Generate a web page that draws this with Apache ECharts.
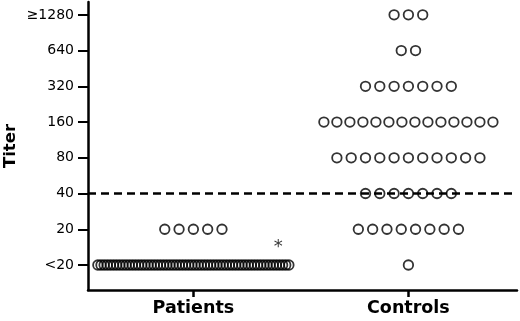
<!DOCTYPE html>
<html><head><meta charset="utf-8">
<script src="https://cdn.jsdelivr.net/npm/echarts@6/dist/echarts.min.js"></script>
<style>html,body{margin:0;padding:0;background:#fff}#c{width:520px;height:321px}</style>
</head><body><div id="c"></div>
<script>
const titerLabels = ['<20','20','40','80','160','320','640','≥1280'];
const groups = ['Patients','Controls'];
const patientCounts = [62,5,0,0,0,0,0,0];
const controlCounts = [1,8,7,11,14,7,2,3];
const cutoffLevel = 2; // titer 40
const asteriskText = '*';

const pxPerUnit = 215;
function layoutRow(groupPos, level, n) {
  const pts = [];
  let sp = n > 20 ? 191 / (n - 1) : (n > 12 ? 13 : 14.3);
  for (let j = 0; j < n; j++) {
    pts.push([groupPos + (j - (n - 1) / 2) * sp / pxPerUnit, level]);
  }
  return pts;
}
function buildPoints(counts, groupIdx) {
  let out = [];
  counts.forEach((n, lvl) => { out = out.concat(layoutRow(groupIdx + 1, lvl, n)); });
  return out;
}
const pts = buildPoints(patientCounts, 0).concat(buildPoints(controlCounts, 1));

const chart = echarts.init(document.getElementById('c'), null, {renderer: 'canvas'});
const font = '"DejaVu Sans", sans-serif';
chart.setOption({
  animation: false,
  grid: {left: 88, right: 3, top: 2, bottom: 31, containLabel: false, outerBoundsMode: 'none'},
  xAxis: {
    type: 'value', min: 0.51, max: 2.505,
    splitLine: {show: false},
    axisLine: {show: true, onZero: false, lineStyle: {color: '#000', width: 2.5}},
    axisTick: {show: true, customValues: [1, 2], length: 7, lineStyle: {color: '#000', width: 2.5}},
    axisLabel: {customValues: [1, 2], margin: 9, color: '#000', fontFamily: font, fontWeight: 'bold', fontSize: 17.5,
      formatter: v => groups[Math.round(v) - 1]}
  },
  yAxis: {
    type: 'value', min: -0.7, max: 7.36,
    name: 'Titer', nameLocation: 'middle', nameRotate: 90, nameGap: 69, nameMoveOverlap: false,
    nameTextStyle: {color: '#000', fontFamily: font, fontWeight: 'bold', fontSize: 16.5},
    splitLine: {show: false},
    axisLine: {show: true, onZero: false, lineStyle: {color: '#000', width: 2.5}},
    axisTick: {show: true, customValues: [0,1,2,3,4,5,6,7], length: 10, lineStyle: {color: '#000', width: 2}},
    axisLabel: {customValues: [0,1,2,3,4,5,6,7], margin: 14, color: '#000', fontFamily: font, fontSize: 14,
      formatter: v => titerLabels[Math.round(v)]}
  },
  series: [{
    type: 'scatter',
    data: pts,
    symbol: 'circle', symbolSize: 9.5,
    itemStyle: {color: 'rgba(0,0,0,0)', borderColor: '#000', borderWidth: 1.8},
    markLine: {
      silent: true, symbol: ['none', 'none'], label: {show: false},
      lineStyle: {color: '#000', width: 2.5, type: [8, 5]},
      data: [{yAxis: cutoffLevel}]
    }
  }, {
    type: 'scatter',
    data: [[1.395, 0.5]],
    symbolSize: 0,
    label: {show: true, position: 'inside', formatter: asteriskText, color: '#000', fontFamily: font, fontSize: 18}
  }]
});
</script></body></html>
